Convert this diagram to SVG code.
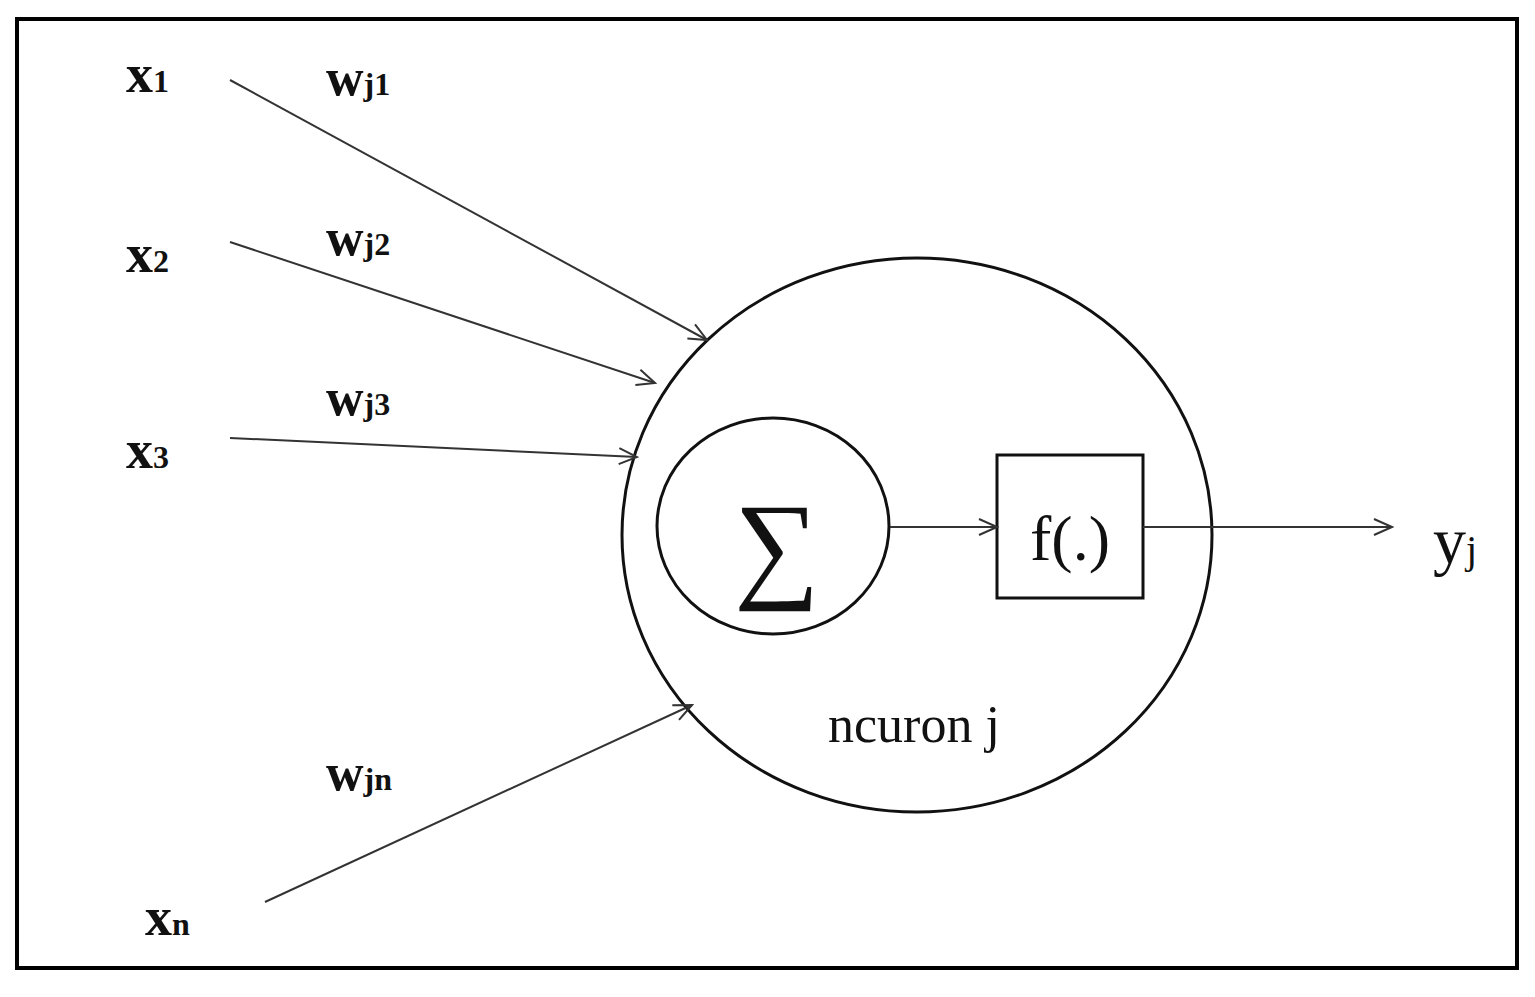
<svg xmlns="http://www.w3.org/2000/svg" width="1535" height="997" viewBox="0 0 1535 997">
<style>
.t{font-family:"Liberation Serif",serif;fill:#111}
.big{font-size:54px;font-weight:bold}
.sub{font-size:32px}
.w{font-size:52px;font-weight:bold}
.ln{stroke:#333;stroke-width:2;fill:none}
</style>
<defs><marker id="a" markerWidth="22" markerHeight="20" refX="20" refY="10" orient="auto" markerUnits="userSpaceOnUse"><path d="M2,2 L20,10 L2,18" fill="none" stroke="#333" stroke-width="2"/></marker></defs>
<rect width="1535" height="997" fill="#fff"/>
<rect x="17" y="19" width="1500" height="949" fill="none" stroke="#000" stroke-width="4"/>
<g id="neuron"><ellipse cx="917" cy="535" rx="295" ry="277" fill="none" stroke="#111" stroke-width="3"/>
<text class="t" x="828" y="742" font-size="52">ncuron j</text></g>
<g id="sum"><ellipse cx="773" cy="526" rx="116" ry="108" fill="none" stroke="#111" stroke-width="3"/>
<text class="t" x="777" y="586" font-size="120" text-anchor="middle">∑</text></g>
<g id="f"><rect x="997" y="455" width="146" height="143" fill="none" stroke="#111" stroke-width="3"/>
<text class="t" x="1070" y="560" font-size="64" text-anchor="middle">f(.)</text></g>
<g id="inputs">
<text class="t big" x="126" y="92">x<tspan class="sub">1</tspan></text>
<text class="t big" x="126" y="272">x<tspan class="sub">2</tspan></text>
<text class="t big" x="126" y="468">x<tspan class="sub">3</tspan></text>
<text class="t big" x="145" y="935">x<tspan class="sub">n</tspan></text>
<text class="t w" x="326" y="95">w<tspan class="sub">j1</tspan></text>
<text class="t w" x="326" y="255">w<tspan class="sub">j2</tspan></text>
<text class="t w" x="326" y="415">w<tspan class="sub">j3</tspan></text>
<text class="t w" x="326" y="790">w<tspan class="sub">jn</tspan></text>
<text class="t" x="1433" y="563" font-size="66">y<tspan font-size="40">j</tspan></text>
</g>
<g id="connectors">
<line class="ln" x1="230" y1="80" x2="707" y2="340" marker-end="url(#a)"/>
<line class="ln" x1="230" y1="242" x2="655" y2="383" marker-end="url(#a)"/>
<line class="ln" x1="230" y1="438" x2="637" y2="457" marker-end="url(#a)"/>
<line class="ln" x1="265" y1="902" x2="692" y2="705" marker-end="url(#a)"/>
<line class="ln" x1="890" y1="527" x2="997" y2="527" marker-end="url(#a)"/>
<line class="ln" x1="1143" y1="527" x2="1392" y2="527" marker-end="url(#a)"/>
</g>
</svg>
